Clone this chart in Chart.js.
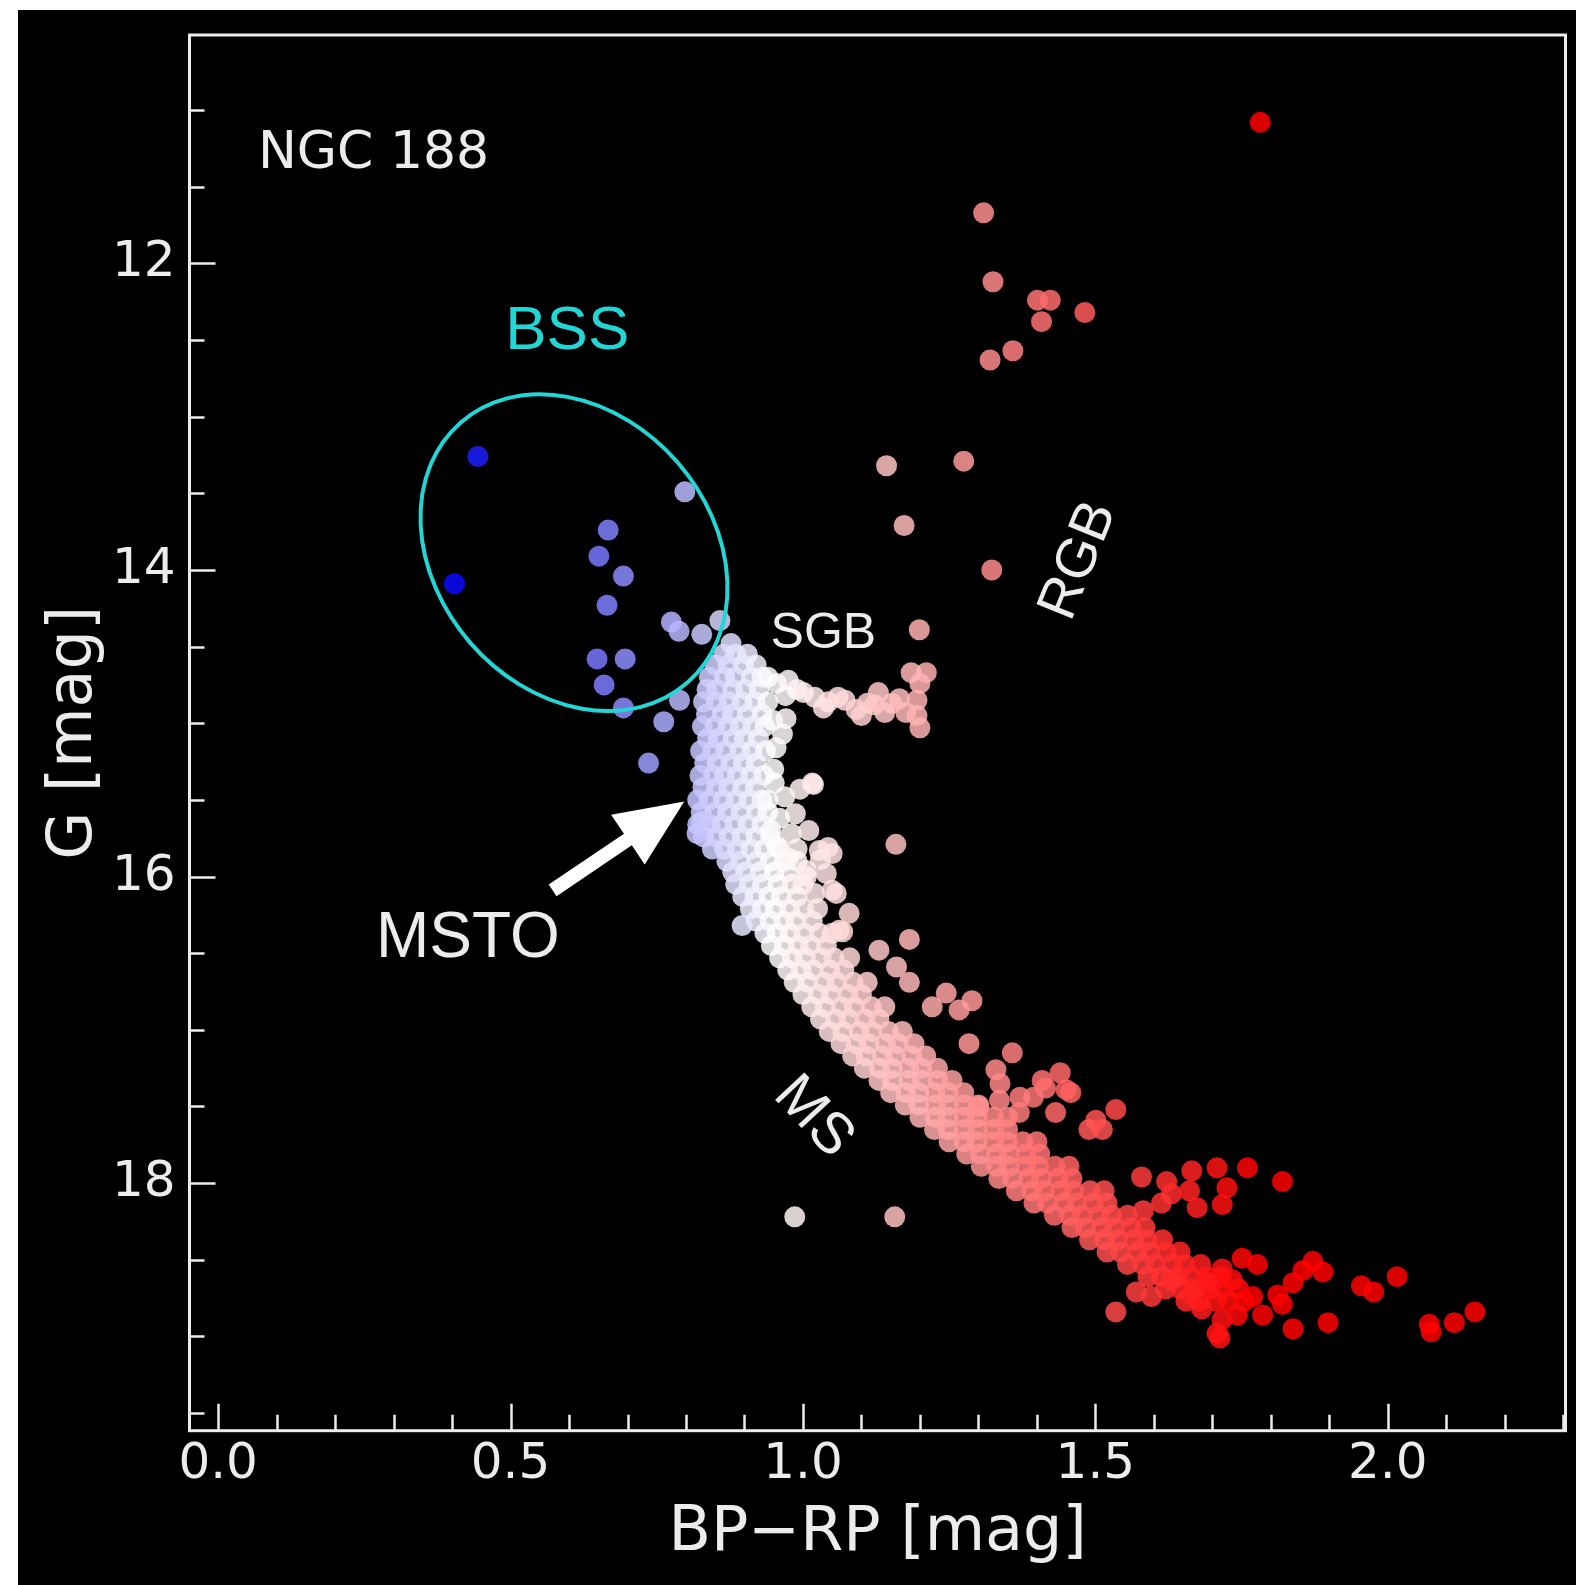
<!DOCTYPE html>
<html>
<head>
<meta charset="utf-8">
<title>NGC 188 CMD</title>
<script src="https://cdn.jsdelivr.net/npm/chart.js@4.4.1/dist/chart.umd.min.js"></script>
<style>
  html, body { margin: 0; padding: 0; background: #fff; }
  #wrap { position: absolute; left: 18px; top: 10px; width: 1558px; height: 1575px; background: #000; }
  canvas { display: block; }
</style>
</head>
<body>
<div id="wrap"><canvas id="cmd" width="1558" height="1575" style="width:1558px;height:1575px"></canvas></div>
<script>
// [BP-RP, G] pairs
const giants = [
    [1.782, 11.08], [1.309, 11.67], [1.325, 12.12], [1.401, 12.24], [1.423, 12.24],
    [1.408, 12.38], [1.482, 12.32], [1.320, 12.63], [1.359, 12.57], [1.143, 13.32],
    [1.275, 13.29], [1.173, 13.71], [1.323, 14.00], [1.199, 14.39]
];

const blueStragglers = [
    [0.444, 13.26], [0.404, 14.09], [0.798, 13.49], [0.667, 13.74], [0.651, 13.91],
    [0.693, 14.04], [0.665, 14.23], [0.648, 14.58], [0.696, 14.58], [0.660, 14.75],
    [0.693, 14.90], [0.762, 14.99], [0.736, 15.26], [0.789, 14.85], [0.775, 14.34],
    [0.788, 14.40], [0.827, 14.42], [0.858, 14.33], [0.877, 14.48]
];

// turnoff clump, one row per G value
const turnoffRows = [
    [14.55, [0.865, 0.885, 0.905]],
    [14.62, [0.85, 0.872, 0.898, 0.92]],
    [14.70, [0.84, 0.866, 0.884, 0.912, 0.93]],
    [14.78, [0.836, 0.853, 0.88, 0.902, 0.925]],
    [14.86, [0.83, 0.852, 0.874, 0.896, 0.918, 0.94]],
    [14.94, [0.835, 0.862, 0.879, 0.905, 0.93]],
    [15.02, [0.828, 0.85, 0.872, 0.893, 0.915, 0.935]],
    [15.10, [0.837, 0.855, 0.881, 0.90, 0.924]],
    [15.18, [0.825, 0.846, 0.868, 0.892, 0.913, 0.936]],
    [15.26, [0.832, 0.853, 0.877, 0.898, 0.92]],
    [15.34, [0.824, 0.847, 0.866, 0.888, 0.911, 0.933]],
    [15.42, [0.829, 0.852, 0.873, 0.897, 0.919]],
    [15.50, [0.82, 0.84, 0.864, 0.886, 0.908, 0.93]],
    [15.58, [0.826, 0.849, 0.871, 0.894, 0.921, 0.94]],
    [15.66, [0.82, 0.841, 0.861, 0.884, 0.906, 0.93]],
    [15.74, [0.83, 0.851, 0.874, 0.896, 0.92, 0.945]],
    [15.82, [0.845, 0.866, 0.888, 0.911, 0.934, 0.96]]
];

const turnoffEdge = [
    [0.948, 14.98], [0.971, 14.97], [0.954, 15.16], [0.951, 15.39], [0.969, 15.48],
    [0.987, 15.59], [1.018, 15.40], [1.043, 15.81], [1.030, 15.89], [1.006, 15.96],
    [0.950, 15.30], [0.960, 15.62], [0.980, 15.72], [0.990, 15.82], [0.945, 15.70],
    [0.955, 15.80], [0.975, 15.88], [1.010, 15.70], [0.940, 15.50], [0.965, 15.07],
    [0.995, 15.43], [0.819, 15.72], [0.827, 15.64], [0.896, 16.32]
];

const subgiants = [
    [0.940, 14.70], [0.955, 14.74], [0.975, 14.72], [0.990, 14.78], [1.001, 14.80],
    [1.020, 14.83], [1.043, 14.86], [1.060, 14.83], [1.072, 14.85], [1.091, 14.91],
    [1.110, 14.87], [1.122, 14.88], [1.129, 14.80], [1.152, 14.87], [1.165, 14.84],
    [1.176, 14.93], [1.195, 14.85], [1.200, 14.74], [1.211, 14.67], [1.185, 14.67],
    [1.200, 15.03], [1.195, 14.95], [1.140, 14.93], [1.100, 14.95], [0.970, 14.82],
    [1.035, 14.90]
];

// main sequence ridge, one row per G value
const mainSeqRows = [
    [15.90, [0.87, 0.893, 0.921, 0.944, 0.968, 0.99]],
    [15.97, [0.88, 0.902, 0.927, 0.951, 0.973]],
    [16.05, [0.885, 0.908, 0.931, 0.957, 0.981, 1.00]],
    [16.13, [0.897, 0.918, 0.942, 0.963, 0.99]],
    [16.21, [0.91, 0.931, 0.953, 0.977, 1.001, 1.025]],
    [16.29, [0.92, 0.944, 0.967, 0.988, 1.016]],
    [16.37, [0.935, 0.956, 0.978, 1.002, 1.028, 1.05]],
    [16.45, [0.946, 0.968, 0.992, 1.013, 1.04]],
    [16.53, [0.96, 0.982, 1.004, 1.031, 1.053, 1.08]],
    [16.61, [0.974, 0.997, 1.018, 1.046, 1.07]],
    [16.69, [0.985, 1.008, 1.036, 1.058, 1.086, 1.11]],
    [16.77, [1.00, 1.026, 1.048, 1.077, 1.10]],
    [16.85, [1.015, 1.038, 1.066, 1.088, 1.117, 1.14]],
    [16.93, [1.03, 1.056, 1.079, 1.106, 1.13]],
    [17.01, [1.045, 1.068, 1.096, 1.118, 1.146, 1.17]],
    [17.09, [1.065, 1.091, 1.113, 1.141, 1.163, 1.19]],
    [17.17, [1.085, 1.108, 1.136, 1.158, 1.186, 1.21]],
    [17.25, [1.105, 1.131, 1.153, 1.181, 1.203, 1.23]],
    [17.33, [1.13, 1.153, 1.181, 1.204, 1.231, 1.255]],
    [17.41, [1.15, 1.176, 1.198, 1.226, 1.248, 1.275]],
    [17.49, [1.175, 1.198, 1.226, 1.249, 1.276, 1.30]],
    [17.57, [1.20, 1.226, 1.248, 1.276, 1.298, 1.326, 1.35]],
    [17.65, [1.225, 1.248, 1.276, 1.299, 1.326, 1.35]],
    [17.73, [1.25, 1.276, 1.298, 1.326, 1.349, 1.376, 1.40]],
    [17.81, [1.28, 1.303, 1.331, 1.353, 1.381, 1.405]],
    [17.89, [1.305, 1.331, 1.353, 1.381, 1.403, 1.431, 1.455]],
    [17.97, [1.335, 1.358, 1.386, 1.408, 1.436, 1.46]],
    [18.05, [1.365, 1.391, 1.413, 1.441, 1.463, 1.491, 1.515]],
    [18.13, [1.395, 1.418, 1.446, 1.468, 1.496, 1.52]],
    [18.21, [1.43, 1.456, 1.478, 1.506, 1.528, 1.555]],
    [18.29, [1.46, 1.483, 1.511, 1.533, 1.561, 1.585]],
    [18.37, [1.49, 1.516, 1.538, 1.566, 1.588, 1.615]],
    [18.45, [1.52, 1.543, 1.571, 1.593, 1.621, 1.645]],
    [18.53, [1.555, 1.581, 1.603, 1.631, 1.653, 1.68]],
    [18.61, [1.59, 1.613, 1.641, 1.663, 1.691, 1.715]],
    [18.69, [1.62, 1.646, 1.668, 1.696, 1.718, 1.745]],
    [18.77, [1.655, 1.678, 1.706, 1.728, 1.755]]
];

const binaries = [
    [1.028, 15.83], [1.050, 15.85], [1.040, 15.98], [1.057, 16.11], [1.079, 16.24],
    [1.062, 16.35], [1.182, 16.41], [1.130, 16.48], [1.160, 16.59], [1.182, 16.69],
    [1.245, 16.76], [1.289, 16.81], [1.267, 16.87], [1.221, 16.85], [1.284, 17.09],
    [1.358, 17.15], [1.330, 17.26], [1.336, 17.46], [1.370, 17.54], [1.409, 17.33],
    [1.450, 17.39], [1.501, 17.59], [1.535, 17.52], [1.489, 17.65], [1.512, 17.65],
    [1.006, 16.00], [1.020, 16.11], [1.050, 16.09], [1.068, 16.36], [1.301, 17.50],
    [1.458, 17.41], [1.432, 17.54], [1.415, 17.38], [1.394, 17.44], [1.440, 17.28],
    [1.371, 17.44], [1.337, 17.35]
];

const faintRed = [
    [1.820, 17.99], [1.760, 17.90], [1.708, 17.90], [1.665, 17.92], [1.674, 18.16],
    [1.717, 18.14], [1.725, 18.03], [1.579, 17.96], [1.622, 17.99], [1.630, 18.07],
    [1.613, 18.13], [1.582, 18.18], [1.661, 18.05], [1.751, 18.49], [1.777, 18.53],
    [1.717, 18.56], [1.734, 18.63], [1.691, 18.65],
    [1.535, 18.84], [1.570, 18.71], [1.596, 18.74], [1.630, 18.63], [1.665, 18.73],
    [1.682, 18.82], [1.717, 18.89], [1.708, 18.98], [1.743, 18.86], [1.769, 18.74],
    [1.786, 18.86], [1.812, 18.73], [1.820, 18.79], [1.838, 18.65], [1.855, 18.57],
    [1.872, 18.51], [1.889, 18.58], [1.898, 18.91], [1.955, 18.67], [1.976, 18.71],
    [2.016, 18.61], [2.071, 18.92], [2.074, 18.97], [2.114, 18.91], [2.149, 18.84],
    [1.713, 19.01], [1.838, 18.95]
];

const fieldStars = [
    [0.986, 18.22], [1.157, 18.22], [1.159, 15.79], [1.016, 15.39]
];

const xTickValues = [0.0, 0.5, 1.0, 1.5, 2.0];
const yTickValues = [12, 14, 16, 18];

function expandRows(rows) {
    const out = [];
    rows.forEach(([g, xs]) => xs.forEach(c => out.push([c, g])));
    return out;
}

const stars = [].concat(
    giants, blueStragglers, expandRows(mainSeqRows), binaries, faintRed,
    expandRows(turnoffRows), turnoffEdge, subgiants, fieldStars
).map(([x, y]) => ({ x, y }));

// blue-white-red by colour index
function starColour(bpRp) {
    const mid = 0.95;
    let r, g, b;
    if (bpRp < mid) {
        const s = Math.min(1, (mid - bpRp) / 0.57);
        r = g = Math.round(255 * (1 - s));
        b = 255;
    } else {
        const s = Math.min(1, (bpRp - mid) / 0.82);
        r = 255;
        g = b = Math.round(255 * (1 - s));
    }
    return `rgba(${r},${g},${b},0.85)`;
}

const WHITE = "#ececec";
const CYAN = "#22d6d6";

function drawText(ctx, text, px, py, font, colour, angle, align) {
    ctx.save();
    ctx.translate(px, py);
    ctx.rotate(angle * Math.PI / 180);
    ctx.font = font;
    ctx.fillStyle = colour;
    ctx.textAlign = align || "center";
    ctx.textBaseline = "middle";
    ctx.fillText(text, 0, 0);
    ctx.restore();
}

const annotations = {
    id: "annotations",
    afterDatasetsDraw(chart) {
        const { ctx, scales: { x, y } } = chart;
        const unit = x.getPixelForValue(1) - x.getPixelForValue(0);

        // BSS selection ellipse
        ctx.save();
        ctx.strokeStyle = CYAN;
        ctx.lineWidth = 4;
        ctx.beginPath();
        ctx.ellipse(x.getPixelForValue(0.6085), y.getPixelForValue(13.887),
            0.295 * unit, 0.235 * unit, 49 * Math.PI / 180, 0, Math.PI * 2);
        ctx.stroke();
        ctx.restore();

        // arrow pointing at the turnoff
        const x0 = x.getPixelForValue(0.572), y0 = y.getPixelForValue(16.09);
        const x1 = x.getPixelForValue(0.797), y1 = y.getPixelForValue(15.51);
        const len = Math.hypot(x1 - x0, y1 - y0);
        const head = 68, hw = 30, sw = 7;
        ctx.save();
        ctx.translate(x0, y0);
        ctx.rotate(Math.atan2(y1 - y0, x1 - x0));
        ctx.fillStyle = "#ffffff";
        ctx.beginPath();
        ctx.moveTo(0, -sw);
        ctx.lineTo(len - head, -sw);
        ctx.lineTo(len - head, -hw);
        ctx.lineTo(len, 0);
        ctx.lineTo(len - head, hw);
        ctx.lineTo(len - head, sw);
        ctx.lineTo(0, sw);
        ctx.closePath();
        ctx.fill();
        ctx.restore();

        const sans = '"Liberation Sans", Arial, sans-serif';
        drawText(ctx, "NGC 188", x.getPixelForValue(0.068), y.getPixelForValue(11.287),
            '52px "DejaVu Sans"', WHITE, 0, "left");
        drawText(ctx, "BSS", x.getPixelForValue(0.597), y.getPixelForValue(12.45),
            "62px " + sans, CYAN, 0);
        drawText(ctx, "SGB", x.getPixelForValue(1.035), y.getPixelForValue(14.42),
            "50px " + sans, WHITE, 0);
        drawText(ctx, "RGB", x.getPixelForValue(1.472), y.getPixelForValue(13.94),
            "56px " + sans, WHITE, -68);
        drawText(ctx, "MS", x.getPixelForValue(1.018), y.getPixelForValue(17.57),
            "58px " + sans, WHITE, 47);
        drawText(ctx, "MSTO", x.getPixelForValue(0.427), y.getPixelForValue(16.41),
            "64px " + sans, WHITE, 0);
    },
    afterDraw(chart) {
        const { ctx, chartArea: a, scales: { x, y } } = chart;
        ctx.save();
        ctx.strokeStyle = WHITE;
        ctx.lineWidth = 3;
        ctx.strokeRect(a.left, a.top, a.right - a.left, a.bottom - a.top);

        // inward ticks, minor ones included
        ctx.lineWidth = 2.5;
        ctx.beginPath();
        for (let i = 0; i <= 23; i++) {
            const v = i / 10;
            const px = Math.round(x.getPixelForValue(v)) + 0.5;
            const len = i % 5 === 0 ? 27 : 16;
            ctx.moveTo(px, a.bottom);
            ctx.lineTo(px, a.bottom - len);
        }
        for (let i = 22; i <= 39; i++) {
            const v = i / 2;
            const py = Math.round(y.getPixelForValue(v)) + 0.5;
            const len = v % 2 === 0 ? 26 : 15;
            ctx.moveTo(a.left, py);
            ctx.lineTo(a.left + len, py);
        }
        ctx.stroke();
        ctx.restore();
    }
};

new Chart(document.getElementById("cmd"), {
    type: "scatter",
    data: {
        datasets: [{
            data: stars,
            pointRadius: 10.5,
            borderWidth: 0,
            backgroundColor: c => starColour(c.raw ? c.raw.x : 1),
        }]
    },
    options: {
        responsive: false,
        animation: false,
        events: [],
        layout: { padding: { top: 25, right: 9, left: 0, bottom: 0 } },
        plugins: { legend: { display: false }, tooltip: { enabled: false } },
        scales: {
            x: {
                type: "linear",
                min: -0.049,
                max: 2.304,
                grid: { display: false, drawTicks: false },
                border: { display: false },
                afterBuildTicks: s => { s.ticks = xTickValues.map(v => ({ value: v })); },
                afterFit: s => {
                    s.height = 154.3;
                    s.paddingLeft = 0;
                    s.paddingRight = 0;
                },
                ticks: {
                    color: WHITE,
                    padding: 4,
                    maxRotation: 0,
                    font: { family: "DejaVu Sans", size: 50 },
                    callback: v => Number(v).toFixed(1)
                },
                title: {
                    display: true,
                    text: "BP\u2212RP [mag]",
                    color: WHITE,
                    font: { family: "DejaVu Sans", size: 62 },
                    padding: { top: 0, bottom: 14 }
                }
            },
            y: {
                type: "linear",
                reverse: true,
                min: 10.51,
                max: 19.615,
                grid: { display: false, drawTicks: false },
                border: { display: false },
                afterBuildTicks: s => { s.ticks = yTickValues.map(v => ({ value: v })); },
                afterFit: s => {
                    s.width = 171.5;
                    s.paddingTop = 0;
                    s.paddingBottom = 0;
                },
                ticks: {
                    color: WHITE,
                    padding: 14,
                    font: { family: "DejaVu Sans", size: 50 },
                    callback: v => String(v)
                },
                title: {
                    display: true,
                    text: "G [mag]",
                    color: WHITE,
                    font: { family: "DejaVu Sans", size: 62 },
                    padding: { top: 20, bottom: 0 }
                }
            }
        }
    },
    plugins: [annotations]
});
</script>
</body>
</html>
